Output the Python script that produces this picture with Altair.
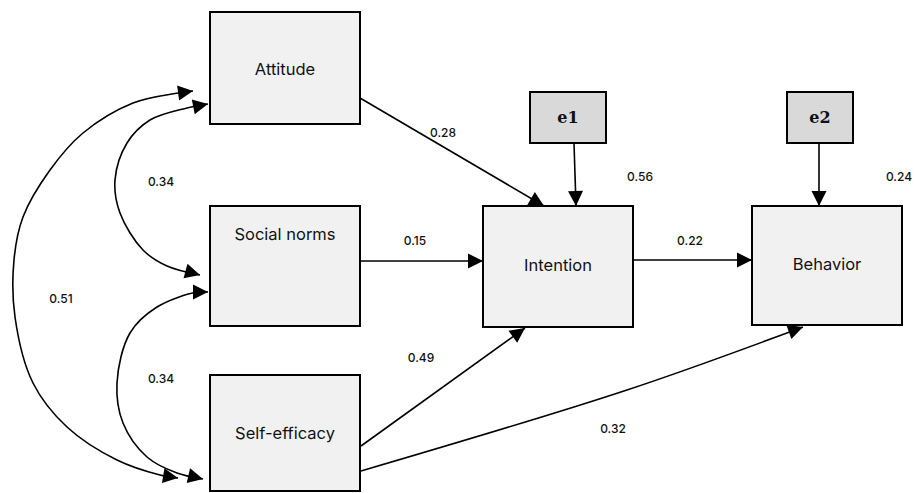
import math
import altair as alt
import pandas as pd

# ---------------- data ----------------
node_names = ["Attitude", "Social norms", "Self-efficacy", "Intention", "Behavior", "e1", "e2"]
node_kind = ["observed", "observed", "observed", "observed", "observed", "error", "error"]
box_left = [210, 210, 210, 483, 752, 530, 787]
box_right = [360, 360, 360, 633, 902, 606, 853]
box_top = [12, 206, 375, 206, 206, 92, 92]
box_bottom = [124, 326, 491, 327, 325, 143, 143]
label_x = [285, 285, 285, 558, 827, 568, 820]
label_y = [70, 235, 434, 266, 265, 118, 118]

# directed paths (straight)
path_from = ["Attitude", "e1", "e2", "Social norms", "Intention", "Self-efficacy"]
path_to = ["Intention", "Intention", "Behavior", "Intention", "Behavior", "Intention"]
path_x_start = [360, 574, 819, 360, 633, 361]
path_y_start = [98, 143, 143, 261, 260, 446]
path_x_end = [544, 576, 819, 483, 752, 525]
path_y_end = [206, 206, 206, 261, 260, 328]

# slightly bent path Self-efficacy -> Behavior
bent_x = [361, 627, 803]
bent_y = [471, 390, 327]

# coefficient labels
coef_text = ["0.28", "0.56", "0.24", "0.15", "0.22", "0.34", "0.51", "0.34", "0.49", "0.32"]
coef_x = [443, 640, 899, 415, 690, 161, 61, 161, 421, 613]
coef_y = [133, 177, 177, 241, 241, 182, 299, 379, 358, 429]

# correlation curves
curve_a_x = [208, 187, 150, 127, 115, 120, 143, 167, 200]
curve_a_y = [104, 108, 120, 143, 180, 213, 250, 266, 275]
curve_b_x = [208, 197, 157, 130, 117, 123, 147, 177, 203]
curve_b_y = [292, 292, 307, 333, 383, 423, 457, 473, 479]
curve_c_x = [193, 178, 133, 83, 50, 23, 14, 15, 33, 67, 117, 160, 178]
curve_c_y = [91, 93, 103, 133, 170, 217, 260, 317, 383, 427, 460, 475, 478]

# ---------------- tables ----------------
nodes = pd.DataFrame({
    "name": node_names, "kind": node_kind,
    "x0": box_left, "x1": box_right, "y0": box_top, "y1": box_bottom,
    "lx": label_x, "ly": label_y,
})

paths = pd.DataFrame({
    "src": path_from, "dst": path_to,
    "x": path_x_start, "y": path_y_start, "x2": path_x_end, "y2": path_y_end,
})


def ang(dx, dy):
    return (math.degrees(math.atan2(dx, -dy)) + 360) % 360


heads = []
for r in paths.itertuples():
    heads.append({"hx": r.x2, "hy": r.y2, "ang": ang(r.x2 - r.x, r.y2 - r.y)})

curve_rows = []
for cid, cx, cy, both in [("A", curve_a_x, curve_a_y, True), ("B", curve_b_x, curve_b_y, True),
                          ("C", curve_c_x, curve_c_y, True), ("D", bent_x, bent_y, False)]:
    for i, (px, py) in enumerate(zip(cx, cy)):
        curve_rows.append({"curve": cid, "ord": i, "cx": px, "cy": py})
    if both:
        heads.append({"hx": cx[0], "hy": cy[0], "ang": ang(cx[0] - cx[1], cy[0] - cy[1])})
    heads.append({"hx": cx[-1], "hy": cy[-1], "ang": ang(cx[-1] - cx[-2], cy[-1] - cy[-2])})
curves = pd.DataFrame(curve_rows)
heads = pd.DataFrame(heads)

coefs = pd.DataFrame({"t": coef_text, "tx": coef_x, "ty": coef_y})

# ---------------- chart ----------------
XS = alt.Scale(domain=[8, 912], nice=False, zero=False)
YS = alt.Scale(domain=[8, 493], nice=False, zero=False, reverse=True)

boxes = alt.Chart(nodes).mark_rect(stroke="black", strokeWidth=2).encode(
    x=alt.X("x0:Q", scale=XS, axis=None),
    x2="x1:Q",
    y=alt.Y("y0:Q", scale=YS, axis=None),
    y2="y1:Q",
    fill=alt.Fill("kind:N", scale=alt.Scale(domain=["observed", "error"], range=["#f1f1f1", "#d9d9d9"]), legend=None),
)

lines = alt.Chart(paths).mark_rule(color="black", strokeWidth=1.6).encode(
    x=alt.X("x:Q", scale=XS, axis=None), y=alt.Y("y:Q", scale=YS, axis=None),
    x2="x2:Q", y2="y2:Q",
)

arcs = alt.Chart(curves).mark_line(color="black", strokeWidth=1.6, interpolate="catmull-rom").encode(
    x=alt.X("cx:Q", scale=XS, axis=None), y=alt.Y("cy:Q", scale=YS, axis=None),
    order="ord:Q", detail="curve:N",
)

arrowheads = alt.Chart(heads).mark_point(
    shape="M0,0L-1,2L1,2Z", filled=True, color="black", size=225, opacity=1, strokeWidth=0
).encode(
    x=alt.X("hx:Q", scale=XS, axis=None), y=alt.Y("hy:Q", scale=YS, axis=None),
    angle=alt.Angle("ang:Q", scale=None),
)

obs_labels = alt.Chart(nodes[nodes["kind"] == "observed"]).mark_text(
    font="Inter", fontSize=16.5, color="#111111", baseline="middle", align="center"
).encode(
    x=alt.X("lx:Q", scale=XS, axis=None), y=alt.Y("ly:Q", scale=YS, axis=None), text="name:N",
)

err_labels = alt.Chart(nodes[nodes["kind"] == "error"]).mark_text(
    font="DejaVu Serif", fontSize=16, fontWeight="bold", color="#111111", baseline="middle", align="center"
).encode(
    x=alt.X("lx:Q", scale=XS, axis=None), y=alt.Y("ly:Q", scale=YS, axis=None), text="name:N",
)

coef_labels = alt.Chart(coefs).mark_text(
    font="Inter", fontSize=12, fontWeight=500, color="#111111", baseline="middle", align="center"
).encode(
    x=alt.X("tx:Q", scale=XS, axis=None), y=alt.Y("ty:Q", scale=YS, axis=None), text="t:N",
)

chart = alt.layer(lines, arcs, boxes, arrowheads, obs_labels, err_labels, coef_labels).properties(
    width=904, height=485, padding=0, autosize=alt.AutoSizeParams(type="none"),
    background="white",
).configure_view(stroke=None)

chart.save("out.html", embed_options={"renderer": "svg", "actions": False})
